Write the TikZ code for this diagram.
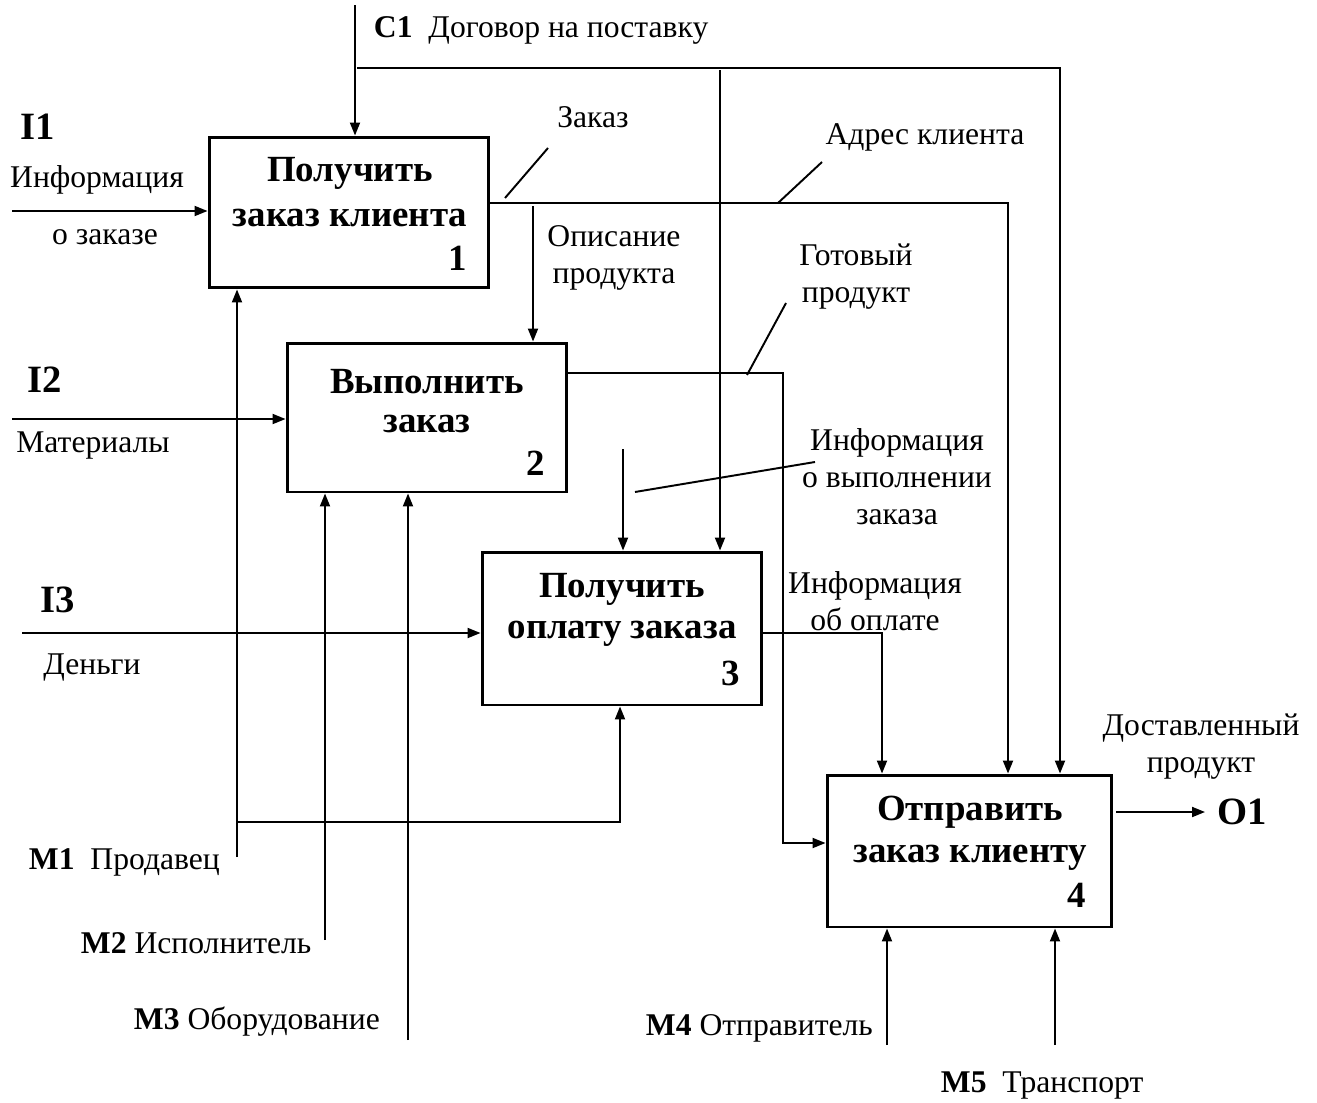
\documentclass[tikz,border=0pt]{standalone}
\usepackage{fontspec}
\setmainfont{Liberation Serif}
\usetikzlibrary{arrows.meta}
\begin{document}
\begin{tikzpicture}[x=0.02cm,y=-0.02cm,
  line width=1.1pt,
  arr/.style={-{Triangle[length=0.26cm,width=0.2cm]}},
  box/.style={draw,line width=1.7pt,rectangle,inner sep=0pt},
  ttl/.style={font=\fontsize{21}{24}\selectfont\bfseries,inner sep=0pt},
  lbl/.style={font=\fontsize{18}{21}\selectfont,inner sep=0pt,align=center},
  blbl/.style={font=\fontsize{22}{25}\selectfont\bfseries,inner sep=0pt}]
\useasboundingbox (0,0) rectangle (1317,1102);
% boxes
\node[box,minimum width=5.6cm,minimum height=3.02cm] (b1) at (349,212.5) {};
\node[box,minimum width=5.6cm,minimum height=2.98cm] (b2) at (427,417.5) {};
\node[box,minimum width=5.6cm,minimum height=3.06cm] (b3) at (622,628.5) {};
\node[box,minimum width=5.7cm,minimum height=3.04cm] (b4) at (969.5,851) {};
% box titles
\node[ttl] (t1a) at (350,173) {Получить};
\node[ttl] (t1b) at (350,218) {заказ клиента};
\node[ttl] (t1n) at (458,258) {1};
\node[ttl] (t2a) at (427,382) {Выполнить};
\node[ttl] (t2b) at (427,424) {заказ};
\node[ttl] (t2n) at (536,463) {2};
\node[ttl] (t3a) at (622,589) {Получить};
\node[ttl] (t3b) at (622,634) {оплату заказа};
\node[ttl] (t3n) at (731,673) {3};
\node[ttl] (t4a) at (970,812) {Отправить};
\node[ttl] (t4b) at (970,858) {заказ клиенту};
\node[ttl] (t4n) at (1077,895) {4};
% coordinates
\coordinate (c1top) at (355,5);
\coordinate (c1a) at (357,68);
\coordinate (c1b) at (1060,68);
\coordinate (c1m) at (720,70);
\coordinate (i1) at (12,211);
\coordinate (i2) at (12,419);
\coordinate (i3) at (22,633);
\coordinate (zr) at (1008,203);
\coordinate (op) at (533,206);
\coordinate (g1) at (783,373);
\coordinate (g2) at (783,843);
\coordinate (iv) at (623,449);
\coordinate (p1) at (882,633);
\coordinate (o1) at (1205,812);
\coordinate (m1) at (237,857);
\coordinate (m1b) at (237,822);
\coordinate (m1c) at (620,822);
\coordinate (m2) at (325,940);
\coordinate (m3) at (408,1040);
\coordinate (m4) at (887,1045);
\coordinate (m5) at (1055,1045);
% control
\draw[arr] (c1top) -- (c1top |- b1.north);
\draw[arr] (c1a) -- (c1b) -- (c1b |- b4.north);
\draw[arr] (c1m) -- (c1m |- b3.north);
% inputs
\draw[arr] (i1) -- (b1.west |- i1);
\draw[arr] (i2) -- (b2.west |- i2);
\draw[arr] (i3) -- (b3.west |- i3);
% outputs of box 1
\draw[arr] (b1.east |- zr) -- (zr) -- (zr |- b4.north);
\draw[arr] (op) -- (op |- b2.north);
% output of box 2
\draw[arr] (b2.east |- g1) -- (g1) -- (g2) -- (b4.west |- g2);
\draw[arr] (iv) -- (iv |- b3.north);
% output of box 3
\draw[arr] (b3.east |- p1) -- (p1) -- (p1 |- b4.north);
% output of box 4
\draw[arr] ([xshift=0.06cm]b4.east |- o1) -- (o1);
% mechanisms
\draw[arr] (m1) -- (m1 |- b1.south);
\draw[arr] (m1b) -- (m1c) -- (m1c |- b3.south);
\draw[arr] (m2) -- (m2 |- b2.south);
\draw[arr] (m3) -- (m3 |- b2.south);
\draw[arr] (m4) -- (m4 |- b4.south);
\draw[arr] (m5) -- (m5 |- b4.south);
% label leaders
\coordinate (s1a) at (505,198); \coordinate (s1b) at (548,148);
\coordinate (s2a) at (778,203); \coordinate (s2b) at (822,162);
\coordinate (s3a) at (747,375); \coordinate (s3b) at (786,303);
\coordinate (s4a) at (635,492); \coordinate (s4b) at (815,462);
\draw (s1a) -- (s1b);
\draw (s2a) -- (s2b);
\draw (s3a) -- (s3b);
\draw (s4a) -- (s4b);
% labels
\node[lbl,anchor=west] (lc1) at (373,30) {\textbf{C1}\ \ Договор на поставку};
\node[blbl] (li1) at (38,127) {I1};
\node[lbl] (li1a) at (97,180) {Информация};
\node[lbl] (li1b) at (105,237) {о заказе};
\node[lbl] (lz) at (593,117) {Заказ};
\node[lbl] (la) at (925,137) {Адрес клиента};
\node[lbl] (lop) at (614,258) {Описание\\продукта};
\node[lbl] (lg) at (856,277) {Готовый\\продукт};
\node[blbl] (li2) at (45,380) {I2};
\node[lbl] (li2a) at (93,446) {Материалы};
\node[lbl] (liv) at (897,477) {Информация\\о выполнении\\заказа};
\node[blbl] (li3) at (58,600) {I3};
\node[lbl] (li3a) at (92,668) {Деньги};
\node[lbl] (lp) at (875,601) {Информация\\об оплате};
\node[lbl] (ld) at (1201,747) {Доставленный\\продукт};
\node[blbl] (lo1) at (1242,812) {O1};
\node[lbl,anchor=west] (lm1) at (28,862) {\textbf{M1}\ \ Продавец};
\node[lbl,anchor=west] (lm2) at (80,943) {\textbf{M2} Исполнитель};
\node[lbl,anchor=west] (lm3) at (133,1022) {\textbf{M3} Оборудование};
\node[lbl,anchor=west] (lm4) at (645,1028) {\textbf{M4} Отправитель};
\node[lbl,anchor=west] (lm5) at (940,1085) {\textbf{M5}\ \ Транспорт};
\end{tikzpicture}
\end{document}
